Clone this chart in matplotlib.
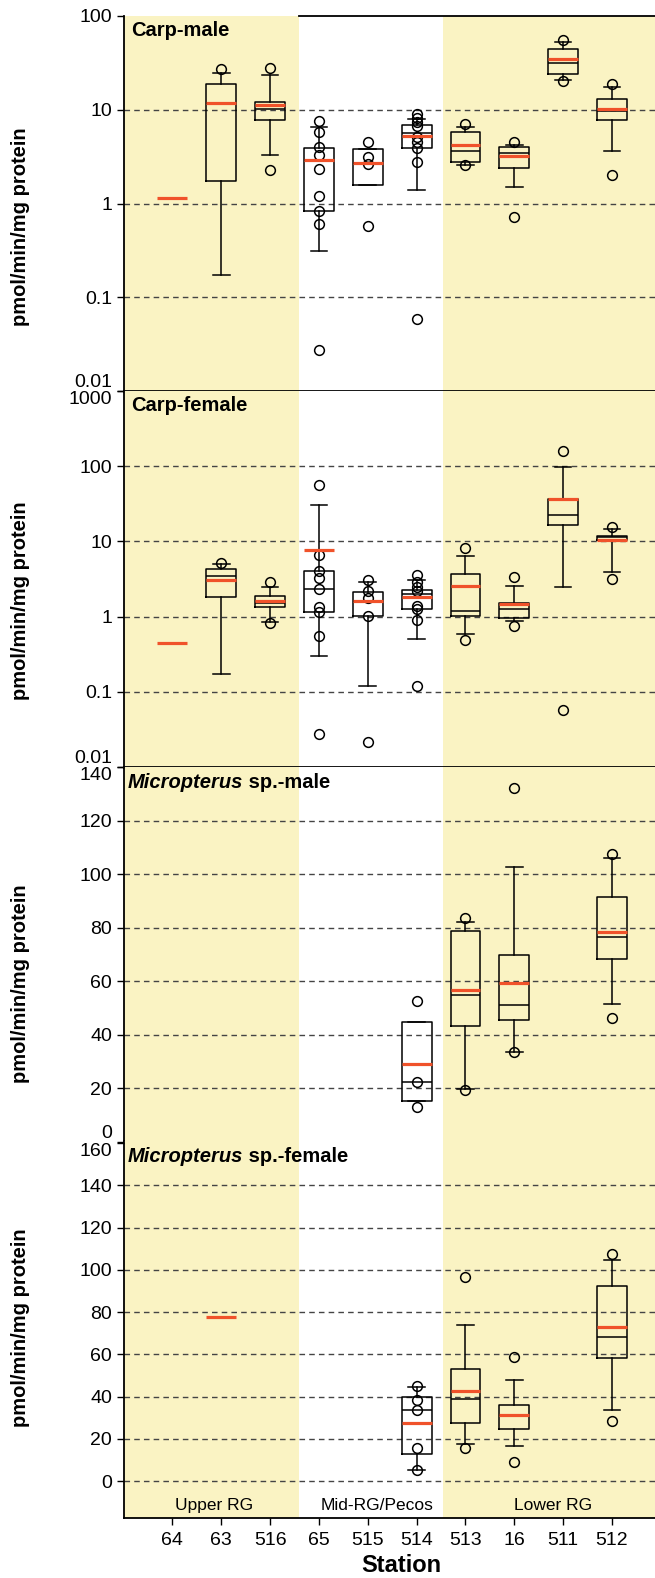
import matplotlib
matplotlib.use('Agg')
import matplotlib.pyplot as plt
import matplotlib.transforms as mtransforms
from matplotlib.ticker import NullLocator

plt.rcParams['font.family'] = ['Liberation Sans', 'DejaVu Sans']

# Stations along the x axis
stations = ['64', '63', '516', '65', '515', '514', '513', '16', '511', '512']
regions = ['Upper RG', 'Mid-RG/Pecos', 'Lower RG']

# Carp-male (log scale)
cm_q1 = [None, 1.72, 7.75, 0.83, 1.57, 3.93, 2.78, 2.4, 24.2, 7.75]
cm_med = [None, 11.7, 10.2, 2.88, 2.7, 5.63, 3.62, 3.47, 31.4, 9.7]
cm_q3 = [None, 19.0, 12.1, 3.95, 3.8, 6.86, 5.73, 3.99, 44.5, 13.0]
cm_wlo = [None, 0.174, 3.3, 0.315, None, 1.40, 2.6, 1.51, 20.9, 3.65]
cm_whi = [None, 24.8, 23.3, 6.5, None, 8.0, 6.5, 4.23, 52.2, 17.3]
cm_mean = [1.14, 11.7, 11.2, 2.88, 2.7, 5.19, 4.2, 3.18, 34.5, 10.2]
cm_pts = [[], [27.5], [28.1, 2.27],
          [7.58, 5.73, 3.96, 3.31, 2.33, 1.21, 0.83, 0.60, 0.0277],
          [4.52, 3.15, 2.61, 0.57],
          [8.92, 8.08, 7.33, 6.64, 5.11, 4.48, 3.93, 2.74, 0.0587],
          [6.97, 2.57], [4.55, 0.72], [55.1, 20.2], [19.0, 2.0]]

# Carp-female (log scale)
cf_q1 = [None, 1.81, 1.35, 1.15, 1.02, 1.27, 1.03, 0.97, 16.7, 10.4]
cf_med = [None, 3.49, 1.52, 2.31, 1.6, 1.98, 1.18, 1.27, 22.4, 11.3]
cf_q3 = [None, 4.28, 1.87, 4.06, 2.11, 2.29, 3.7, 1.52, 37.0, 11.9]
cf_wlo = [None, 0.174, 0.84, 0.296, 0.121, 0.509, 0.59, 0.87, 2.46, 3.9]
cf_whi = [None, 4.94, 2.46, 30.9, 2.87, 3.05, 6.44, 2.54, 98.9, 14.7]
cf_mean = [0.45, 3.05, 1.6, 7.67, 1.6, 1.83, 2.56, 1.45, 37.0, 10.4]
cf_pts = [[], [5.09], [2.87, 0.81],
          [55.6, 6.58, 4.06, 3.31, 2.31, 1.35, 1.15, 0.56, 0.0275],
          [3.05, 2.18, 1.77, 1.02, 0.0213],
          [3.52, 2.9, 2.44, 2.2, 1.37, 1.27, 0.91, 0.12],
          [8.07, 0.49], [3.38, 0.76], [161.0, 0.0575], [15.7, 3.18]]

# Micropterus sp.-male (linear)
mm_q1 = [None, None, None, None, None, 15.3, 43.2, 45.4, None, 68.2]
mm_med = [None, None, None, None, None, 22.4, 54.9, 51.0, None, 76.5]
mm_q3 = [None, None, None, None, None, 44.9, 78.7, 69.8, None, 91.6]
mm_wlo = [None, None, None, None, None, None, 19.9, 33.7, None, 51.6]
mm_whi = [None, None, None, None, None, None, 82.1, 102.7, None, 105.9]
mm_mean = [None, None, None, None, None, 29.2, 56.7, 59.5, None, 78.3]
mm_pts = [[], [], [], [], [], [52.6, 22.4, 13.0], [83.8, 19.6],
          [132.1, 33.6], [], [107.4, 46.3]]

# Micropterus sp.-female (linear)
mf_q1 = [None, None, None, None, None, 13.0, 27.5, 24.5, None, 58.3]
mf_med = [None, None, None, None, None, 33.6, 38.9, 31.4, None, 68.1]
mf_q3 = [None, None, None, None, None, 39.8, 52.9, 36.0, None, 92.4]
mf_wlo = [None, None, None, None, None, 5.1, 17.5, 16.4, None, 33.5]
mf_whi = [None, None, None, None, None, 44.5, 74.1, 47.9, None, 104.7]
mf_mean = [None, 77.6, None, None, None, 27.5, 42.5, 31.4, None, 72.7]
mf_pts = [[], [], [], [], [], [44.8, 38.2, 33.8, 15.6, 5.1], [96.7, 15.6],
          [58.5, 9.2], [], [107.6, 28.3]]

YELLOW = '#FAF3C3'
RED = '#F0522A'
GRID = '#444444'
band_edges = [2.6, 5.53]
xmin, xmax = -0.99, 9.88
box_w = 0.61

fig = plt.figure(figsize=(6.55, 15.78), dpi=100)
H = 1578.0
W = 655.0
left = 124 / W
width = 1 - left
panels_px = [(16, 391), (391, 767), (767, 1142), (1141, 1518)]
axes = []
for top, bot in panels_px:
    axes.append(fig.add_axes([left, (H - bot) / H, width, (bot - top) / H]))

data = [
    (cm_q1, cm_med, cm_q3, cm_wlo, cm_whi, cm_mean, cm_pts),
    (cf_q1, cf_med, cf_q3, cf_wlo, cf_whi, cf_mean, cf_pts),
    (mm_q1, mm_med, mm_q3, mm_wlo, mm_whi, mm_mean, mm_pts),
    (mf_q1, mf_med, mf_q3, mf_wlo, mf_whi, mf_mean, mf_pts),
]

yticks = [
    [0.01, 0.1, 1, 10, 100],
    [0.01, 0.1, 1, 10, 100, 1000],
    [0, 20, 40, 60, 80, 100, 120, 140],
    [0, 20, 40, 60, 80, 100, 120, 140, 160],
]
ytlabels = [
    ['0.01', '0.1', '1', '10', '100'],
    ['0.01', '0.1', '1', '10', '100', '1000'],
    [str(v) for v in yticks[2]],
    [str(v) for v in yticks[3]],
]
ylims = [(0.01, 100), (0.01, 1000), (0, 140), (-17.5, 161)]
gridvals = [[0.1, 1, 10], [0.1, 1, 10, 100],
            [20, 40, 60, 80, 100, 120], [0, 20, 40, 60, 80, 100, 120, 140]]
titles = [('Carp-male', None), ('Carp-female', None),
          ('Micropterus', ' sp.-male'), ('Micropterus', ' sp.-female')]
ylabel_px = [227, 601, 984, 1328]

positions = list(range(len(stations)))

for k, ax in enumerate(axes):
    q1, med, q3, wlo, whi, mean, pts = data[k]
    if k < 2:
        ax.set_yscale('log')
    ax.set_xlim(xmin, xmax)
    ax.set_ylim(*ylims[k])

    ax.axvspan(xmin - 1, band_edges[0], color=YELLOW, lw=0, zorder=0)
    ax.axvspan(band_edges[1], xmax + 1, color=YELLOW, lw=0, zorder=0)

    for g in gridvals[k]:
        ax.axhline(g, color=GRID, lw=1.0, ls=(0, (4.0, 3.0)), zorder=1)

    stats = []
    pos_box = []
    for i in positions:
        if q1[i] is None:
            if mean[i] is not None:
                ax.hlines(mean[i], i - box_w / 2, i + box_w / 2, color=RED,
                          lw=2.3, zorder=5)
            continue
        stats.append(dict(
            q1=q1[i], med=med[i], q3=q3[i],
            whislo=wlo[i] if wlo[i] is not None else q1[i],
            whishi=whi[i] if whi[i] is not None else q3[i],
            mean=mean[i], fliers=pts[i]))
        pos_box.append(i)

    lp = dict(color='black', lw=1.1)
    ax.bxp(stats, positions=pos_box, widths=box_w, capwidths=0.34,
           showmeans=True, meanline=True, manage_ticks=False,
           boxprops=lp, whiskerprops=lp, capprops=lp,
           medianprops=dict(color='black', lw=1.1),
           meanprops=dict(color=RED, lw=2.3, ls='-'),
           flierprops=dict(marker='o', mfc='none', mec='black', ms=7,
                           mew=1.1), zorder=4)

    # y axis
    ax.set_yticks(yticks[k])
    ax.set_yticklabels(ytlabels[k])
    ax.yaxis.set_minor_locator(NullLocator())
    ax.tick_params(axis='y', direction='out', length=5, width=1.0,
                   labelsize=14, pad=3.5)
    labs = ax.get_yticklabels()
    if k in (0, 1, 2):
        labs[0].set_verticalalignment('bottom')
    if k in (1, 2, 3):
        labs[-1].set_verticalalignment('top')

    # spines
    for s in ['top', 'right']:
        ax.spines[s].set_visible(False)
    ax.spines['left'].set_linewidth(1.3)
    if k < 2:
        ax.spines['bottom'].set_linewidth(2.0)
        ax.spines['bottom'].set_zorder(6)
    else:
        ax.spines['bottom'].set_visible(k == 3)
        ax.spines['bottom'].set_linewidth(1.3)

    trans = mtransforms.blended_transform_factory(ax.transData, ax.transAxes)
    if k == 0:
        ax.plot([band_edges[0], xmax], [1, 1], color='black', lw=1.3,
                transform=trans, clip_on=False, zorder=6)
    if k == 2:
        ax.plot(band_edges, [0, 0], color='black', lw=1.3,
                transform=trans, clip_on=False, zorder=6)

    # x axis
    if k < 3:
        ax.tick_params(axis='x', bottom=False, labelbottom=False)
    else:
        ax.set_xticks(positions)
        ax.set_xticklabels(stations)
        ax.tick_params(axis='x', direction='out', length=5, width=1.0,
                       labelsize=14, pad=5)

    # panel title
    it, rest = titles[k]
    if rest is None:
        ax.text(0.014, 0.988, it, transform=ax.transAxes, ha='left', va='top',
                fontsize=14.5, fontweight='bold', zorder=7)
    else:
        t1 = ax.text(0.006, 0.985, it, transform=ax.transAxes, ha='left',
                     va='top', fontsize=14.5, fontweight='bold',
                     fontstyle='italic', zorder=7)
        ax.annotate(rest, xy=(1, 0), xycoords=t1, ha='left', va='bottom',
                    fontsize=14.5, fontweight='bold', zorder=7)

    fig.text(21 / W, 1 - ylabel_px[k] / H, 'pmol/min/mg protein',
             rotation=90, ha='center', va='center', fontsize=14.5,
             fontweight='bold')

# region labels in the bottom panel
region_x = [0.85, 4.2, 7.8]
for rx, name in zip(region_x, regions):
    axes[3].text(rx, -11.8, name, ha='center', va='center', fontsize=12.5)

fig.text(401 / W, 1 - 1566 / H, 'Station', ha='center', va='center',
         fontsize=17, fontweight='bold')

fig.savefig('out.png', dpi=100)
